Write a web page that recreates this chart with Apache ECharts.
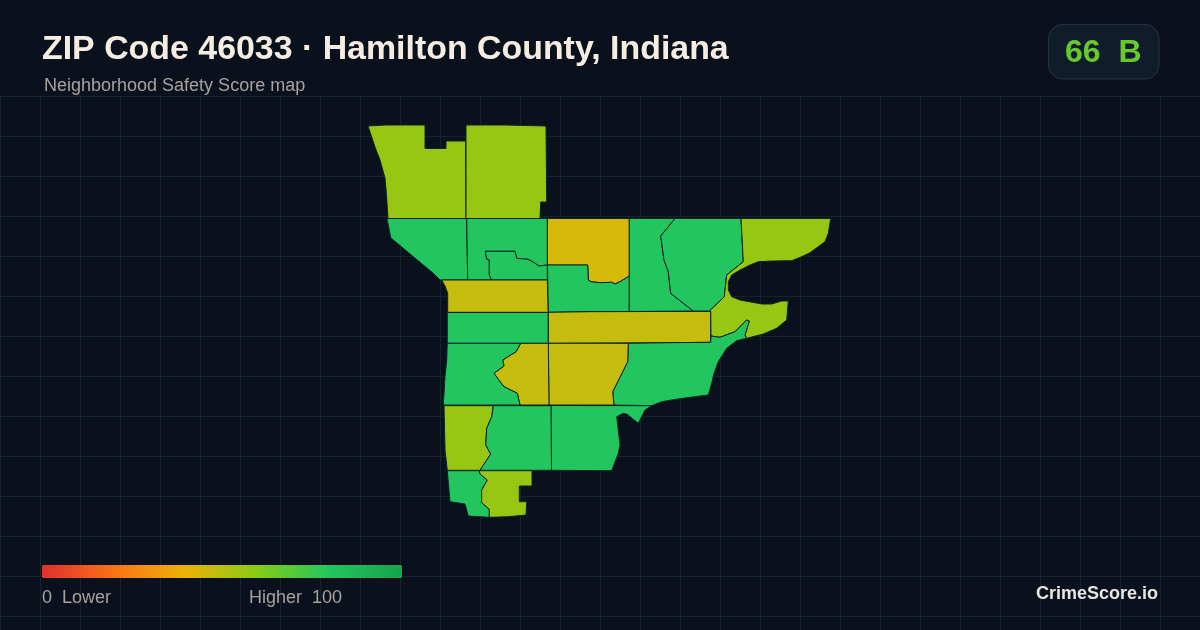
<!DOCTYPE html>
<html><head><meta charset="utf-8">
<style>html,body{margin:0;padding:0;background:#0a111c}#c{width:1200px;height:630px}</style>
<script src="https://cdn.jsdelivr.net/npm/echarts@6/dist/echarts.min.js"></script>
</head><body><div id="c"></div>
<script>
const regionNames = ['A','B','C','D','D2','E','F','G','H','I','J','K','L','N','O','P','Q','R','S','T','U','V'];
const regionScores = [56,56,80,80,80,47,80,44,80,47,80,80,56,80,47,47,80,80,56,80,80,56];
const legendStops = ['#e02f2f','#f97316','#eab308','#84cc16','#22c55e','#16a34a'];
const overallScore = 66, overallGrade = 'B';
const gridStep = 40;

// Tract outlines, in map units
const boundaries = {
 A:[[368,126],[386,125],[425,125],[425,148.5],[446,148.5],[446,141],[465.5,141],[466,218.5],[388,218.5],[386.5,195],[385,178],[380,160],[375,147]],
 B:[[466,125],[505,125],[546,126],[546.7,202],[540.7,202],[540,218.5],[466,218.5]],
 C:[[387,218.5],[466.7,218.5],[467.7,280],[440,280],[433.3,273.3],[413.3,256.7],[390.7,237.7]],
 D:[[466.7,218.5],[547.3,218.5],[547.3,265],[539,266],[533,262],[528,259.3],[516.7,258.3],[515,251.3],[485.3,251.3],[486.7,259],[489.3,260],[489.3,275],[491.7,280],[467.7,280]],
 D2:[[485.3,251.3],[515,251.3],[516.7,258.3],[528,259.3],[533,262],[539,266],[547.3,265],[547.3,280],[491.7,280],[489.3,275],[489.3,260],[486.7,259]],
 E:[[441.7,280],[547.3,280],[548.3,312.3],[447.7,312.3],[447.7,293.3],[445,286]],
 F:[[447.3,312.5],[548.3,312.5],[548.3,343.3],[447.3,343.3]],
 G:[[547.5,218.5],[629.3,218.5],[629.3,276],[620,281.7],[615,284],[611.7,282.3],[600,282.7],[591,281.7],[588.3,280],[587.7,265],[547.5,265]],
 H:[[547.5,265],[587.7,265],[588.3,280],[591,281.7],[600,282.7],[611.7,282.3],[615,284],[620,281.7],[629.3,276],[629.3,311.5],[590,311.7],[548.3,312.3]],
 I:[[548.3,312.3],[590,311.7],[710.7,311.3],[710.7,342.3],[670,342.7],[548.3,343.3]],
 J:[[629.3,218.5],[675,218.5],[660.7,236],[664,260],[668.3,271.7],[670.7,293.3],[693.3,311],[629.3,311.5]],
 K:[[675,218.5],[741,218.5],[743.3,261.7],[726.7,275],[724.3,296.7],[712.3,308.3],[709.3,311],[693.3,311],[670.7,293.3],[668.3,271.7],[664,260],[660.7,236]],
 L:[[741,218.5],[830.7,218.5],[828.3,233.3],[825,241.7],[810,252.7],[801.7,256.7],[791.7,260.7],[771.7,261],[758.3,261.7],[750,265],[740,270],[731.7,275],[728.3,281.7],[728.3,290],[731.7,296.7],[740,300],[761.7,304],[771.7,304],[781.7,301],[788.3,301],[786.7,320],[776.7,328.3],[763.3,334],[746.7,338.3],[745,335],[749.3,321],[746.7,320],[735,331.7],[720,337.3],[711,336],[710.7,311.3],[709.3,311],[712.3,308.3],[724.3,296.7],[726.7,275],[743.3,261.7]],
 N:[[628.3,343.3],[670,342.7],[710.7,342.3],[711,336],[720,337.3],[735,331.7],[746.7,320],[749.3,321],[745,335],[746.7,338.3],[736.7,340.7],[726.7,348.3],[718.3,361.7],[714,373.3],[711.7,383.3],[708.3,395],[690,397.3],[671.7,400],[661.7,401.7],[651.7,405.7],[614,405],[612.7,391.7],[627.7,361.7]],
 O:[[548.3,343.3],[628.3,343.3],[627.7,361.7],[612.7,391.7],[614,405],[549,405]],
 P:[[520.7,343.3],[548.3,343.3],[549,405],[520,405],[517.3,393.3],[504,386.7],[499.3,380.7],[494,373.3],[504,366],[502.7,360],[516,351.7]],
 Q:[[551,405.5],[651.7,405.7],[645,410],[638.3,423.3],[626.7,414],[623,413.5],[616.7,416.7],[620,445],[618.3,453.3],[611.7,470.7],[551.5,470.3]],
 R:[[447.3,343.3],[520.7,343.3],[516,351.7],[502.7,360],[504,366],[494,373.3],[499.3,380.7],[504,386.7],[517.3,393.3],[520,405],[443.3,405],[445,376.7],[446.7,360]],
 S:[[444,405.7],[493.3,405.7],[491.7,416.7],[486.7,428.3],[485.7,445],[490.7,454],[480,470.3],[447.3,470.3],[445,450]],
 T:[[493.3,405.7],[551,405.7],[551.5,470.3],[480,470.3],[490.7,454],[485.7,445],[486.7,428.3],[491.7,416.7]],
 U:[[447.3,470.7],[479.3,470.7],[480,474],[487.3,480],[481.7,490],[481.7,502.7],[489.3,509.3],[489.3,517.3],[468.3,516],[465,504],[450,501.7]],
 V:[[479.3,470.7],[532,470.7],[532,486],[519.3,486],[519.3,501.7],[526.7,501.7],[526,515],[508.3,516.7],[489.3,517.3],[489.3,509.3],[481.7,502.7],[481.7,490],[487.3,480],[480,474]]
};

const allPts = Object.values(boundaries).flat();
const xs = allPts.map(p => p[0]), ys = allPts.map(p => p[1]);
const minX = Math.min(...xs), maxX = Math.max(...xs), minY = Math.min(...ys), maxY = Math.max(...ys);

echarts.registerMap('zip46033', {
  type: 'FeatureCollection',
  features: regionNames.map(n => ({
    type: 'Feature', properties: { name: n },
    geometry: { type: 'Polygon', coordinates: [boundaries[n].concat([boundaries[n][0]])] }
  }))
});

const chart = echarts.init(document.getElementById('c'), null, { renderer: 'canvas' });
const sans = '"Liberation Sans", Arial, sans-serif';
const gridLine = { show: true, lineStyle: { color: '#15232d', width: 1 } };
const hiddenAxis = { min: 0, interval: gridStep, axisLine: { show: false }, axisTick: { show: false }, axisLabel: { show: false }, splitLine: gridLine };

chart.setOption({
  animation: false,
  backgroundColor: '#0a111c',
  grid: { left: 0, top: 96, width: 1200, height: 534, show: false },
  xAxis: Object.assign({ type: 'value', max: 1200 }, hiddenAxis),
  yAxis: Object.assign({ type: 'value', max: 534, inverse: true }, hiddenAxis),
  title: [
    { text: 'ZIP Code 46033 · Hamilton County, Indiana', left: 42, top: 33, padding: 0, textStyle: { color: '#f5ede2', fontFamily: sans, fontWeight: 'bold', fontSize: 33.9 } },
    { text: 'Neighborhood Safety Score map', left: 44, top: 77, padding: 0, textStyle: { color: '#a8a29e', fontFamily: sans, fontWeight: 'normal', fontSize: 18 } }
  ],
  visualMap: {
    type: 'continuous', min: 0, max: 100, orient: 'horizontal', left: 42, top: 565, padding: 0,
    itemWidth: 13, itemHeight: 360, calculable: false, realtime: false, hoverLink: false, borderRadius: 0,
    text: null, showLabel: false, inRange: { color: legendStops }, seriesIndex: 0
  },
  series: [{
    type: 'map', map: 'zip46033', silent: true, roam: false,
    projection: { project: p => p, unproject: p => p },
    left: minX, top: minY, width: maxX - minX, height: maxY - minY,
    label: { show: false },
    itemStyle: { borderColor: '#0d2426', borderWidth: 1 },
    emphasis: { disabled: true },
    data: regionNames.map((n, i) => ({ name: n, value: regionScores[i] }))
  }],
  graphic: [
    { type: 'rect', z: 10, left: 1048, top: 24, shape: { width: 110.5, height: 54.5, r: 14 }, style: { fill: '#111c2a', stroke: '#263241', lineWidth: 1 } },
    { type: 'text', z: 11, left: 1065, top: 37, style: { text: overallScore + '  ' + overallGrade, fill: '#66ca2f', font: 'bold 32px ' + sans } },
    { type: 'text', z: 11, left: 42, top: 589, style: { text: '0  Lower', fill: '#a8a29e', font: '18px ' + sans } },
    { type: 'text', z: 11, right: 858, top: 589, style: { text: 'Higher  100', fill: '#a8a29e', font: '18px ' + sans } },
    { type: 'text', z: 11, right: 42, top: 585, style: { text: 'CrimeScore.io', fill: '#e9e6e1', font: 'bold 18px ' + sans } }
  ]
});
</script></body></html>
